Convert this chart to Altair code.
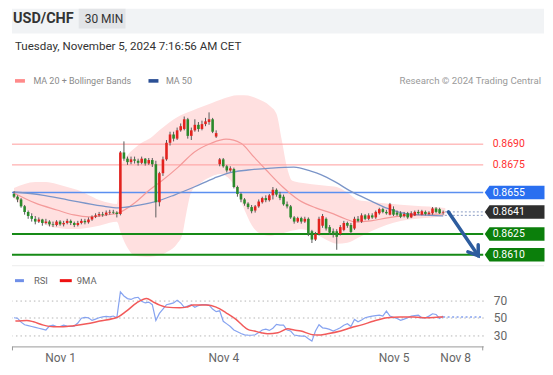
import altair as alt
import pandas as pd

FONT = "Roboto"

# ---------------- header texts ----------------
PAIR = "USD/CHF"
TIMEFRAME = "30 MIN"
STAMP = "Tuesday, November 5, 2024 7:16:56 AM CET"
LEG_MA20 = "MA 20 + Bollinger Bands"
LEG_MA50 = "MA 50"
CREDIT = "Research \u00a9 2024 Trading Central"

# ---------------- candles (30 min) ----------------
open_ = [0.8654,0.8652,0.8650,0.8645,0.8641,0.8638,0.8636,0.8634,0.86355,0.8633,
         0.8634,0.8632,0.86315,0.8634,0.8632,0.8633,0.86345,0.8633,0.86315,0.8633,
         0.86345,0.86335,0.86355,0.86375,0.86385,0.86395,0.8639,0.86405,0.8641,0.86405,
         0.86395,0.8684,0.86795,0.8677,0.8679,0.8678,0.86765,0.86795,0.8676,0.86785,
         0.86755,0.8648,0.8669,0.8679,0.8691,0.8697,0.8694,0.8700,0.8701,0.8708,
         0.8696,0.8700,0.8704,0.8701,0.87045,0.8706,0.8708,0.86955,0.86755,0.8679,
         0.8674,0.8671,0.8672,0.8659,0.8654,0.8650,0.8647,0.86445,0.8642,0.8645,
         0.8648,0.8651,0.86495,0.8653,0.8657,0.86535,0.8652,0.86465,0.8645,0.8637,
         0.8634,0.86365,0.8634,0.8636,0.8627,0.8621,0.8625,0.8631,0.8636,0.8630,
         0.8627,0.8627,0.8625,0.8628,0.8633,0.86315,0.8629,0.8636,0.8634,0.86385,
         0.8636,0.86385,0.8637,0.8640,0.8643,0.8641,0.8639,0.8643,0.86405,0.8640,
         0.8638,0.8640,0.8637,0.86385,0.8641,0.8639,0.8641,0.86395,0.8640,0.86435,
         0.8643,0.86405]
high_ = [0.8656,0.8653,0.8651,0.8646,0.8642,0.8640,0.8638,0.8637,0.8636,0.8636,
         0.8635,0.8634,0.8635,0.8635,0.86345,0.8636,0.86355,0.8634,0.86345,0.8636,
         0.8636,0.8637,0.86385,0.8640,0.8641,0.8641,0.8642,0.86425,0.86425,0.86415,
         0.8685,0.8692,0.8681,0.8681,0.8681,0.86795,0.8681,0.8680,0.8680,0.8680,
         0.8678,0.8670,0.8681,0.8693,0.8699,0.8699,0.8702,0.8705,0.8710,0.8709,
         0.8702,0.8708,0.8706,0.8707,0.8709,0.8713,0.8709,0.8700,0.8680,0.8680,
         0.8675,0.8674,0.8673,0.8660,0.8655,0.8651,0.8648,0.8646,0.8646,0.8650,
         0.8652,0.8653,0.8654,0.8659,0.8658,0.86555,0.86535,0.86485,0.8646,0.8638,
         0.86375,0.86375,0.86375,0.8637,0.8628,0.86265,0.86375,0.86395,0.8637,0.86315,
         0.8629,0.86285,0.86315,0.86345,0.8634,0.8633,0.86375,0.8638,0.8640,0.86395,
         0.8640,0.8640,0.8642,0.8644,0.8644,0.86425,0.86475,0.8645,0.8642,0.86415,
         0.8641,0.8641,0.86415,0.8642,0.86425,0.86425,0.8642,0.86415,0.86445,0.86445,
         0.8644,0.8642]
low_ = [0.8651,0.8648,0.8644,0.8639,0.8636,0.8634,0.8632,0.8633,0.8631,0.8632,
        0.86305,0.8630,0.86305,0.8631,0.86305,0.8632,0.86315,0.8630,0.86305,0.8632,
        0.8632,0.86325,0.86345,0.86365,0.86375,0.86375,0.8638,0.8639,0.86395,0.8637,
        0.86385,0.8678,0.8675,0.86755,0.8676,0.86745,0.86755,0.86745,0.8675,0.86735,
        0.8637,0.8645,0.8667,0.8678,0.8689,0.8692,0.8693,0.8699,0.8700,0.8694,
        0.8693,0.8699,0.8699,0.8700,0.8703,0.8704,0.8698,0.86945,0.8674,0.8673,
        0.86695,0.8670,0.8658,0.8652,0.8648,0.86455,0.8643,0.8640,0.86405,0.8644,
        0.8647,0.8648,0.86485,0.8650,0.8652,0.86495,0.86455,0.86435,0.8636,0.86325,
        0.8633,0.86325,0.8633,0.86235,0.86185,0.8620,0.8624,0.86295,0.86275,0.86245,
        0.86225,0.86136,0.8624,0.8627,0.86295,0.8625,0.8628,0.86335,0.8633,0.8635,
        0.8635,0.8636,0.8636,0.8639,0.8640,0.8639,0.86385,0.8638,0.8638,0.86365,
        0.8637,0.8636,0.86365,0.8638,0.8639,0.86385,0.86385,0.86385,0.8639,0.8640,
        0.86395,0.8639]
close_ = [0.8652,0.8650,0.8645,0.8641,0.8638,0.8636,0.8634,0.86355,0.8633,0.8634,
          0.8632,0.86315,0.8634,0.8632,0.8633,0.86345,0.8633,0.86315,0.8633,0.86345,
          0.86335,0.86355,0.86375,0.86385,0.86395,0.8639,0.86405,0.8641,0.86405,0.86395,
          0.8684,0.86795,0.8677,0.8679,0.8678,0.86765,0.86795,0.8676,0.86785,0.86755,
          0.8648,0.8669,0.8679,0.8691,0.8697,0.8694,0.8700,0.8703,0.8708,0.8696,
          0.8700,0.8704,0.8701,0.87045,0.87065,0.8708,0.8699,0.8698,0.8679,0.8674,
          0.8671,0.86725,0.8659,0.8654,0.8650,0.8647,0.86445,0.86415,0.8645,0.86485,
          0.8651,0.86495,0.8653,0.8657,0.86535,0.8651,0.86465,0.8645,0.8637,0.8634,
          0.86365,0.8634,0.8636,0.8625,0.8621,0.8625,0.8636,0.8638,0.8629,0.8626,
          0.86245,0.8623,0.8630,0.8633,0.8631,0.86265,0.8636,0.86345,0.86385,0.8636,
          0.86385,0.8637,0.8641,0.8643,0.8641,0.8640,0.86465,0.8639,0.8639,0.86375,
          0.86395,0.8637,0.8640,0.8641,0.8640,0.86415,0.86395,0.86405,0.86435,0.8641,
          0.8640,0.8641]

# ---------------- Bollinger bands / moving averages ----------------
band_idx = [0,3,6,9,12,15,18,21,24,27,29,30.3,32,34,36,38.5,41,43.5,46,47.5,
            48.5,50,53,56,58,61,63,65,67,69,72,74,75.5,77,78.5,81,84,88,91,94,
            97,101,105,109,113,117,121.6]
band_upper = [0.86583,0.86612,0.86626,0.86626,0.86612,0.8659,0.86568,0.86532,0.86496,0.86475,
              0.86468,0.8675,0.8682,0.8687,0.8691,0.86945,0.87,0.87051,0.87095,0.87115,
              0.87126,0.8714,0.8717,0.872,0.8722,0.87245,0.87253,0.87253,0.87245,0.87225,
              0.8718,0.8712,0.8693,0.8673,0.86635,0.8662,0.8661,0.866,0.8659,0.8655,
              0.86496,0.86483,0.8647,0.86462,0.86455,0.86449,0.86439]
band_lower = [0.86511,0.86439,0.86367,0.86316,0.86295,0.86287,0.86287,0.86295,0.86309,0.86331,
              0.86338,0.86244,0.8615,0.86093,0.86088,0.86086,0.86096,0.86125,0.8618,0.8625,
              0.86388,0.86554,0.86626,0.86669,0.86684,0.86641,0.86554,0.86424,0.86316,0.86259,
              0.86237,0.86245,0.86253,0.86265,0.86275,0.86285,0.86266,0.86208,0.86179,0.86186,
              0.86223,0.86273,0.86316,0.86345,0.86359,0.86367,0.86381]
ma20_idx = [0,5.9,12.1,16.9,21.1,26.1,29.5,34,38.2,41.6,46.3,50.8,55.6,59.8,64,67.7,71.1,
            75.8,80.3,85.1,89.3,93.5,96.3,100.6,105.3,109.8,114.6,121]
ma20 = [0.86547,0.86475,0.86424,0.86388,0.86374,0.86388,0.86403,0.86475,0.86568,0.86633,
        0.86734,0.86842,0.86907,0.86936,0.86907,0.86806,0.86713,0.8659,0.86496,0.86439,
        0.86403,0.86359,0.86338,0.86345,0.86367,0.86381,0.86388,0.86395]
ma50_idx = [0,7.9,15.4,24.7,29.5,34,39.6,45.2,50.8,56.5,60.4,66,72.5,78.9,83.7,86.5,90.7,
            94.9,100.6,105.3,109,114.6,121]
ma50 = [0.86554,0.86532,0.86496,0.86453,0.86439,0.86453,0.86482,0.86532,0.8659,0.86655,
        0.86691,0.86713,0.86727,0.86734,0.86705,0.8668,0.86625,0.8656,0.8649,0.86435,
        0.86405,0.86388,0.86381]

# ---------------- key levels ----------------
res_price = [0.8690, 0.8675]
res_text = ["0.8690", "0.8675"]
tag_price = [0.8655, 0.8641, 0.8625, 0.8610]
tag_text = ["0.8655", "0.8641", "0.8625", "0.8610"]
tag_fill = ["#2a6ff0", "#2e2e2e", "#0b7f0b", "#0b7f0b"]
last_price = 0.8641
spread_price = 0.86385
target_price = 0.86093
target_idx = 130.9

# ---------------- RSI ----------------
rsi = [50,49.5,45,42,41,40,39,38,37,36,
       40.5,41.5,40,40,41.5,40.5,40,40.5,44,49.5,
       50.5,50,47,48.5,50,51,51.5,51,52,50,
       79.7,75,72,71,72.9,73.5,69,67,68,65,
       47,55,60,65,66,67,70,67,62,63.5,
       65,62,64,65,65,64.5,60,57,58,46,
       43,40,36,34,32,30.5,30.2,30,30.5,33,
       36,37,35.5,38,42.4,41.5,41.6,36,34.8,30.2,
       29.5,29,29,26,23.3,34.8,42,38.5,37.8,36.7,
       34.8,36.5,38.6,41.5,43.1,40,48.1,45.4,47.5,50,
       51,51.9,52.5,53,52,57.6,51.9,50.5,49.2,47,
       48.5,50,51.9,52.5,53,50,50,51.9,54.6,53.8,
       49.2,51.9]
rsi9_idx = [0.4,3.6,5.5,8.3,11.1,13.9,16.8,20.5,24.2,28,29.4,31.7,34.6,37.4,39.2,41.1,43,
            46.7,48.6,50.5,54.2,57,59.8,62.6,64.5,65.9,67.8,69.7,71.5,74.4,77.2,79,80.9,
            83.7,85.6,88.4,92.1,95,97.8,101.5,105.2,108.9,112.7,116.4,120.2,121.1]
rsi9 = [46.2,47,45.4,41.6,39.7,39.7,40.9,43.1,46.2,49.2,51.1,57.6,67.1,72.1,68.3,64.5,62.2,
        61.4,62.2,64.5,64.5,62.2,55.7,48.1,41,36.7,34.8,32.9,31.7,32.9,37.4,35.9,34.8,
        31,30.2,31.7,34.8,38.6,41.6,46.2,50,50.8,50.8,50,50.8,50.8]
rsi_levels = [30, 50, 70]
rsi_last = 51

tick_idx = [13, 59, 107, 124.4]
tick_text = ["Nov 1", "Nov 4", "Nov 5", "Nov 8"]

# ---------------- styles ----------------
C_UP = "#e2231f"
C_DOWN = "#2b8a2b"
C_WICK = "#5a5a5a"
W = 473
RIGHT = 534
X_DOM = [-0.562, 132.3]
XS = alt.Scale(domain=X_DOM, nice=False, zero=False, padding=0)
PS = alt.Scale(domain=[0.86028, 0.873036], nice=False, zero=False)
RS = alt.Scale(domain=[17.2, 110.8], nice=False, zero=False)

N = len(close_)
cand = pd.DataFrame({"i": list(range(N)), "o": open_, "h": high_, "l": low_, "c": close_})
cand["col"] = [C_UP if c > o else C_DOWN for o, c in zip(open_, close_)]
band_df = pd.DataFrame({"i": band_idx, "u": band_upper, "d": band_lower})
ma20_df = pd.DataFrame({"i": ma20_idx, "v": ma20})
ma50_df = pd.DataFrame({"i": ma50_idx, "v": ma50})

def X(f):
    return alt.X(f, type="quantitative", scale=XS, axis=None)

def PY(f):
    return alt.Y(f, type="quantitative", scale=PS, axis=None)

one = alt.Data(values=[{"k": 0}])

# ---------------- header panel ----------------
def hrect(x, x2, y, y2, fill):
    return alt.Chart(one).mark_rect(color=fill).encode(
        x=alt.value(x), x2=alt.value(x2), y=alt.value(y), y2=alt.value(y2))

def htext(txt, x, y, size, color, weight="normal", align="left", baseline="alphabetic"):
    return alt.Chart(one).mark_text(text=txt, fontSize=size, color=color, fontWeight=weight,
                                    align=align, baseline=baseline, font=FONT).encode(
        x=alt.value(x), y=alt.value(y))

header = alt.layer(
    hrect(0, RIGHT, 0, 25, "#f1f3f5"),
    hrect(67, 114, 0, 20, "#e2e4e7"),
    htext(PAIR, 1, 14.5, 14.5, "#333333", weight="bold"),
    htext(TIMEFRAME, 73, 14, 12, "#333333"),
    htext(STAMP, 3, 41.5, 11.6, "#333333"),
    hrect(3, 13, 70.7, 74.3, "#ff8a8a"),
    htext(LEG_MA20, 21.5, 72.5, 9, "#8a8a8a", baseline="middle"),
    hrect(137, 147, 70.7, 74.3, "#2b4f95"),
    htext(LEG_MA50, 154.5, 72.5, 9, "#8a8a8a", baseline="middle"),
    htext(CREDIT, 531, 72.5, 9.7, "#9a9a9a", align="right", baseline="middle"),
).properties(width=W, height=80)

# ---------------- price panel ----------------
band = alt.Chart(band_df).mark_area(interpolate="monotone", color="#ffe0e0", opacity=1).encode(
    x=X("i"), y=PY("u"), y2="d")

lvl_df = pd.DataFrame({
    "p": res_price + [tag_price[0], tag_price[2], tag_price[3]],
    "col": ["#ff9c9c", "#ff9c9c", "#5b8ff0", "#168a16", "#168a16"],
    "w": [1, 1, 1.5, 2.2, 2.2],
})
levels = alt.Chart(lvl_df).mark_rule().encode(
    y=PY("p"), color=alt.Color("col:N", scale=None), strokeWidth=alt.StrokeWidth("w:Q", scale=None))

ma20_line = alt.Chart(ma20_df).mark_line(interpolate="monotone", color="#f49a9a", strokeWidth=1.2).encode(
    x=X("i"), y=PY("v"))
ma50_line = alt.Chart(ma50_df).mark_line(interpolate="monotone", color="#7b95c8", strokeWidth=1.3).encode(
    x=X("i"), y=PY("v"))

dot_df = pd.DataFrame({"i0": [N - 0.5, N - 0.5], "i1": [X_DOM[1], X_DOM[1]],
                       "p": [last_price, spread_price]})
dots = alt.Chart(dot_df).mark_rule(strokeDash=[2, 2], color="#8a9cc4", strokeWidth=1).encode(
    x=X("i0"), x2="i1", y=PY("p"))

wicks = alt.Chart(cand).mark_rule(color=C_WICK, strokeWidth=1).encode(x=X("i"), y=PY("l"), y2="h")
bodies = alt.Chart(cand).mark_bar(size=2.6).encode(
    x=X("i"), y=PY("o"), y2="c", color=alt.Color("col:N", scale=None))

arrow_df = pd.DataFrame({"i": [N + 0.5, target_idx], "p": [last_price, target_price]})
arrow_line = alt.Chart(arrow_df).mark_line(color="#2d5c9e", strokeWidth=3.5, strokeCap="round").encode(
    x=X("i"), y=PY("p"))
head_df = pd.DataFrame({"i": [target_idx], "p": [target_price]})
arrow_head = alt.Chart(head_df).mark_point(
    shape="M -0.9 1.3 L 0 0 L 0.9 1.3", filled=False, size=196, angle=145,
    color="#2d5c9e", strokeWidth=3.5, opacity=1, strokeCap="round").encode(
    x=X("i"), y=PY("p"))

tag_df = pd.DataFrame({"p": tag_price, "t": tag_text, "f": tag_fill})
TAG = "M -1 0 L -0.84 -0.225 L 1 -0.225 L 1 0.225 L -0.84 0.225 Z"
tags = alt.Chart(tag_df).mark_point(shape=TAG, size=3600, filled=True, opacity=1, strokeWidth=0).encode(
    x=alt.value(504.5), y=PY("p"), color=alt.Color("f:N", scale=None))
tag_txt = alt.Chart(tag_df).mark_text(align="left", baseline="middle", color="white",
                                      fontSize=10.5, font=FONT).encode(
    x=alt.value(482.5), y=PY("p"), text="t:N")
res_df = pd.DataFrame({"p": res_price, "t": res_text})
res_txt = alt.Chart(res_df).mark_text(align="left", baseline="middle", color="#ff3030",
                                      fontSize=10.5, font=FONT).encode(
    x=alt.value(482.5), y=PY("p"), text="t:N")

price = alt.layer(band, levels, ma20_line, ma50_line, dots, wicks, bodies,
                  arrow_line, arrow_head, tags, tag_txt, res_txt).properties(width=W, height=177)

# ---------------- RSI panel ----------------
rsi_df = pd.DataFrame({"i": list(range(len(rsi))), "v": rsi})
rsi9_df = pd.DataFrame({"i": rsi9_idx, "v": rsi9})
label_map = "{" + ",".join("'%s':'%s'" % (v, t) for v, t in zip(tick_idx, tick_text)) + "}"
x_axis = alt.Axis(values=tick_idx, labelExpr=label_map + "[datum.value]", ticks=False, tickSize=0,
                  domainColor="#9a9a9a", domainWidth=1, labelColor="#666666", labelFontSize=12,
                  labelPadding=6, labelFlush=False, grid=False, title=None, labelFont=FONT)
y_axis = alt.Axis(orient="right", values=rsi_levels, grid=True, gridDash=[1.5, 3], gridColor="#b5b5b5",
                  domain=False, ticks=False, tickSize=0, labelPadding=10, labelColor="#666666",
                  labelFontSize=12, title=None, labelFont=FONT)

def RX(f):
    return alt.X(f, type="quantitative", scale=XS, axis=x_axis)

def RY(f):
    return alt.Y(f, type="quantitative", scale=RS, axis=y_axis)

rsi_line = alt.Chart(rsi_df).mark_line(color="#86a3f0", strokeWidth=1.2).encode(x=RX("i"), y=RY("v"))
rsi9_line = alt.Chart(rsi9_df).mark_line(color="#f25a5a", strokeWidth=1.5, interpolate="monotone").encode(
    x=RX("i"), y=RY("v"))
ext_df = pd.DataFrame({"i0": [N - 1], "i1": [X_DOM[1]], "v": [rsi_last]})
rsi_ext = alt.Chart(ext_df).mark_rule(color="#86a3f0", strokeDash=[2, 2.5], strokeWidth=1.5).encode(
    x=RX("i0"), x2="i1", y=RY("v"))

sep = alt.Chart(one).mark_rule(color="#ececec").encode(
    x=alt.value(0), x2=alt.value(RIGHT), y=alt.value(1))
end_l = alt.Chart(one).mark_rule(color="#9a9a9a").encode(
    x=alt.value(0.5), y=alt.value(82), y2=alt.value(86))
end_r = alt.Chart(one).mark_rule(color="#9a9a9a").encode(
    x=alt.value(W - 0.5), y=alt.value(82), y2=alt.value(86))

rsi_panel = alt.layer(
    rsi_line, rsi9_line, rsi_ext, sep, end_l, end_r,
    hrect(3, 12, 14.5, 17.5, "#6f8fe8"),
    htext("RSI", 22, 16, 9.5, "#666666", baseline="middle"),
    hrect(48, 60, 14.5, 17.5, "#ee1111"),
    htext("9MA", 65, 16, 9.5, "#666666", baseline="middle"),
).properties(width=W, height=82)

chart = alt.vconcat(header, price, rsi_panel, spacing=0, bounds="flush").properties(
    padding={"left": 2, "top": 0, "right": 0, "bottom": 2}, background="white"
).configure(font=FONT).configure_view(strokeWidth=0)

chart.save("out.html", embed_options={"renderer": "svg", "actions": False})
